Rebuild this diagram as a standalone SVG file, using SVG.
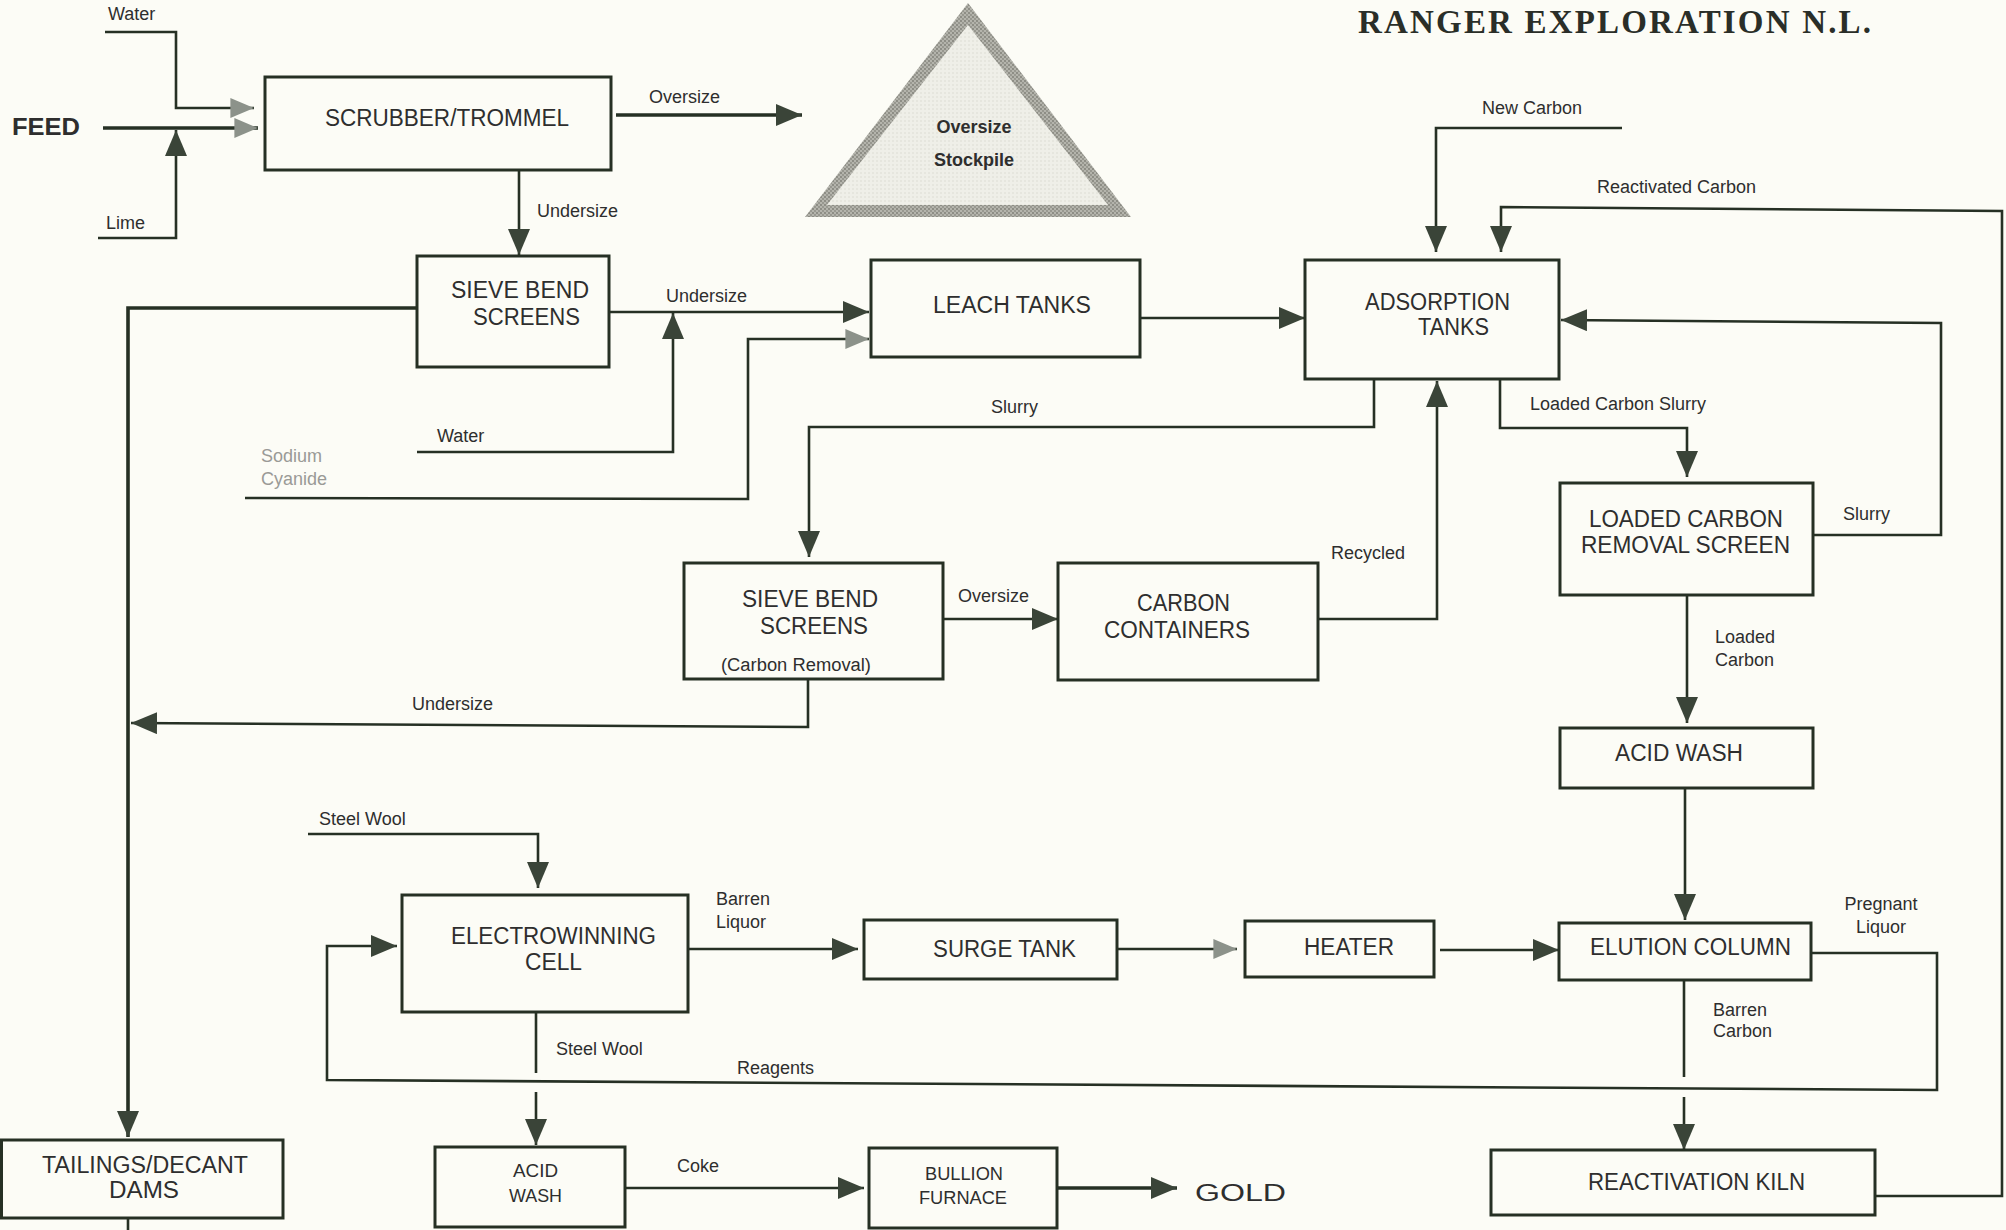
<svg xmlns="http://www.w3.org/2000/svg" width="2006" height="1230" viewBox="0 0 2006 1230">
<defs>
<style>
.bg{fill:#fcfcf6}
.box{fill:none;stroke:#263024;stroke-width:3}
.ln{fill:none;stroke:#263024;stroke-width:2.6}
.lnk{fill:none;stroke:#263024;stroke-width:3.6}
.lbl{font-family:"Liberation Sans",Arial,sans-serif;font-size:18px;fill:#2e2e2e}
.nd{font-family:"Liberation Sans",Arial,sans-serif;font-size:23px;fill:#2e2e2e}
.sm{font-family:"Liberation Sans",Arial,sans-serif;font-size:18px;fill:#2e2e2e}
.faint{fill:#9a9a96}
.title{font-family:"Liberation Serif","Times New Roman",serif;font-size:33px;font-weight:bold;fill:#2a2e28}
</style>
<marker id="arr" viewBox="0 0 26 22" refX="26" refY="11" markerWidth="26" markerHeight="22" markerUnits="userSpaceOnUse" orient="auto">
<path d="M0,0 L26,11 L0,22 Z" fill="#3a4438"/>
</marker>
<marker id="arrg" viewBox="0 0 26 22" refX="26" refY="11" markerWidth="24" markerHeight="20" markerUnits="userSpaceOnUse" orient="auto">
<path d="M0,0 L26,11 L0,22 Z" fill="#8c928a"/>
</marker>
<pattern id="dots" width="4" height="4" patternUnits="userSpaceOnUse">
<rect width="4" height="4" fill="#b4b4ac"/>
<circle cx="1" cy="1" r="0.9" fill="#7c7c74"/>
<circle cx="3" cy="3" r="0.9" fill="#8a8a82"/>
</pattern>
<pattern id="dots2" width="4" height="4" patternUnits="userSpaceOnUse">
<rect width="4" height="4" fill="#efefe8"/>
<circle cx="1" cy="1" r="0.7" fill="#d6d6ce"/>
</pattern>
</defs>
<rect class="bg" x="0" y="0" width="2006" height="1230"/>

<text class="title" x="1358" y="33" textLength="513" lengthAdjust="spacing">RANGER  EXPLORATION  N.L.</text>

<g id="connectors">
<polyline class="ln" points="105,32 176,32 176,108 254,108" marker-end="url(#arrg)"/>
<polyline class="lnk" points="103,128 258,128" marker-end="url(#arrg)"/>
<polyline class="ln" points="98,238 176,238 176,130" marker-end="url(#arr)"/>
<polyline class="lnk" points="616,115 802,115" marker-end="url(#arr)"/>
<polyline class="ln" points="519,170 519,255" marker-end="url(#arr)"/>
<polyline class="lnk" points="417,308 128,308 128,1137" marker-end="url(#arr)"/>
<polyline class="ln" points="609,312 869,312" marker-end="url(#arr)"/>
<polyline class="ln" points="417,452 673,452 673,313" marker-end="url(#arr)"/>
<polyline class="ln" points="245,498 748,499 748,339 869,339" marker-end="url(#arrg)"/>
<polyline class="ln" points="1140,318 1305,318" marker-end="url(#arr)"/>
<polyline class="ln" points="1622,128 1436,128 1436,252" marker-end="url(#arr)"/>
<polyline class="ln" points="1875,1196 2002,1196 2002,211 1501,207 1501,252" marker-end="url(#arr)"/>
<polyline class="ln" points="1374,379 1374,427 809,427 809,557" marker-end="url(#arr)"/>
<polyline class="ln" points="1500,379 1500,428 1687,428 1687,477" marker-end="url(#arr)"/>
<polyline class="ln" points="1813,535 1941,535 1941,323 1561,320" marker-end="url(#arr)"/>
<polyline class="ln" points="1687,595 1687,723" marker-end="url(#arr)"/>
<polyline class="ln" points="943,619 1058,619" marker-end="url(#arr)"/>
<polyline class="ln" points="1318,619 1437,619 1437,381" marker-end="url(#arr)"/>
<polyline class="ln" points="808,679 808,727 131,723" marker-end="url(#arr)"/>
<polyline class="ln" points="1685,788 1685,920" marker-end="url(#arr)"/>
<polyline class="ln" points="308,834 538,834 538,888" marker-end="url(#arr)"/>
<polyline class="ln" points="688,949 858,949" marker-end="url(#arr)"/>
<polyline class="ln" points="1117,949 1237,949" marker-end="url(#arrg)"/>
<polyline class="ln" points="1440,950 1559,950" marker-end="url(#arr)"/>
<polyline class="ln" points="1811,953 1937,953 1937,1090 327,1080 327,946 397,946" marker-end="url(#arr)"/>
<polyline class="ln" points="1684,980 1684,1077"/>
<polyline class="ln" points="1684,1097 1684,1150" marker-end="url(#arr)"/>
<polyline class="ln" points="536,1012 536,1073"/>
<polyline class="ln" points="536,1092 536,1145" marker-end="url(#arr)"/>
<polyline class="ln" points="625,1188 864,1188" marker-end="url(#arr)"/>
<polyline class="lnk" points="1057,1188 1177,1188" marker-end="url(#arr)"/>
<polyline class="ln" points="128,1218 128,1230"/>
</g>

<g id="labels">
<text class="lbl" x="108" y="20">Water</text>
<text class="lbl" x="106" y="229">Lime</text>
<text class="lbl" x="649" y="103">Oversize</text>
<text class="lbl" x="537" y="217">Undersize</text>
<text class="lbl" x="666" y="302">Undersize</text>
<text class="lbl" x="437" y="442">Water</text>
<text class="lbl faint" x="261" y="462">Sodium</text>
<text class="lbl faint" x="261" y="485">Cyanide</text>
<text class="lbl" x="991" y="413">Slurry</text>
<text class="lbl" x="1482" y="114">New Carbon</text>
<text class="lbl" x="1597" y="193">Reactivated Carbon</text>
<text class="lbl" x="1530" y="410">Loaded Carbon Slurry</text>
<text class="lbl" x="1843" y="520">Slurry</text>
<text class="lbl" x="1331" y="559">Recycled</text>
<text class="lbl" x="958" y="602">Oversize</text>
<text class="lbl" x="412" y="710">Undersize</text>
<text class="lbl" x="1715" y="643">Loaded</text>
<text class="lbl" x="1715" y="666">Carbon</text>
<text class="lbl" x="319" y="825">Steel Wool</text>
<text class="lbl" x="716" y="905">Barren</text>
<text class="lbl" x="716" y="928">Liquor</text>
<text class="lbl" x="556" y="1055">Steel Wool</text>
<text class="lbl" x="737" y="1074">Reagents</text>
<text class="lbl" x="1881" y="910" text-anchor="middle">Pregnant</text>
<text class="lbl" x="1881" y="933" text-anchor="middle">Liquor</text>
<text class="lbl" x="1713" y="1016">Barren</text>
<text class="lbl" x="1713" y="1037">Carbon</text>
<text class="lbl" x="677" y="1172">Coke</text>
<text class="nd" x="12" y="135" font-size="27" font-weight="bold" textLength="68" lengthAdjust="spacingAndGlyphs">FEED</text>
<text class="nd" x="1195" y="1201" font-size="34" textLength="91" lengthAdjust="spacingAndGlyphs">GOLD</text>
</g>

<g id="stockpile">
<polygon points="968,3 805,217 1131,217" fill="url(#dots)"/>
<polygon points="968,25 827,205 1108,205" fill="url(#dots2)"/>
<text class="sm" x="974" y="133" text-anchor="middle" font-size="16" font-weight="bold" fill="#3a3a3a">Oversize</text>
<text class="sm" x="974" y="166" text-anchor="middle" font-size="16" font-weight="bold" fill="#3a3a3a">Stockpile</text>
</g>

<g id="scrubber">
<rect class="box" x="265" y="77" width="346" height="93"/>
<text class="nd" x="325" y="126" textLength="244" lengthAdjust="spacingAndGlyphs">SCRUBBER/TROMMEL</text>
</g>
<g id="sieve1">
<rect class="box" x="417" y="256" width="192" height="111"/>
<text class="nd" x="451" y="298" textLength="138" lengthAdjust="spacingAndGlyphs">SIEVE BEND</text>
<text class="nd" x="473" y="325" textLength="107" lengthAdjust="spacingAndGlyphs">SCREENS</text>
</g>
<g id="leach">
<rect class="box" x="871" y="260" width="269" height="97"/>
<text class="nd" x="933" y="313" textLength="158" lengthAdjust="spacingAndGlyphs">LEACH TANKS</text>
</g>
<g id="adsorption">
<rect class="box" x="1305" y="260" width="254" height="119"/>
<text class="nd" x="1365" y="310" textLength="145" lengthAdjust="spacingAndGlyphs">ADSORPTION</text>
<text class="nd" x="1418" y="335" textLength="71" lengthAdjust="spacingAndGlyphs">TANKS</text>
</g>
<g id="sieve2">
<rect class="box" x="684" y="563" width="259" height="116"/>
<text class="nd" x="742" y="607" textLength="136" lengthAdjust="spacingAndGlyphs">SIEVE BEND</text>
<text class="nd" x="760" y="634" textLength="108" lengthAdjust="spacingAndGlyphs">SCREENS</text>
<text class="sm" x="721" y="671" textLength="150" lengthAdjust="spacingAndGlyphs">(Carbon Removal)</text>
</g>
<g id="carbon-containers">
<rect class="box" x="1058" y="563" width="260" height="117"/>
<text class="nd" x="1137" y="611" textLength="93" lengthAdjust="spacingAndGlyphs">CARBON</text>
<text class="nd" x="1104" y="638" textLength="146" lengthAdjust="spacingAndGlyphs">CONTAINERS</text>
</g>
<g id="lcrs">
<rect class="box" x="1560" y="483" width="253" height="112"/>
<text class="nd" x="1589" y="527" textLength="194" lengthAdjust="spacingAndGlyphs">LOADED CARBON</text>
<text class="nd" x="1581" y="553" textLength="209" lengthAdjust="spacingAndGlyphs">REMOVAL SCREEN</text>
</g>
<g id="acid-wash-right">
<rect class="box" x="1560" y="728" width="253" height="60"/>
<text class="nd" x="1615" y="761" textLength="128" lengthAdjust="spacingAndGlyphs">ACID WASH</text>
</g>
<g id="elution">
<rect class="box" x="1559" y="923" width="252" height="57"/>
<text class="nd" x="1590" y="955" textLength="201" lengthAdjust="spacingAndGlyphs">ELUTION COLUMN</text>
</g>
<g id="heater">
<rect class="box" x="1245" y="921" width="189" height="56"/>
<text class="nd" x="1304" y="955" textLength="90" lengthAdjust="spacingAndGlyphs">HEATER</text>
</g>
<g id="surge">
<rect class="box" x="864" y="920" width="253" height="59"/>
<text class="nd" x="933" y="957" textLength="143" lengthAdjust="spacingAndGlyphs">SURGE TANK</text>
</g>
<g id="electrowinning">
<rect class="box" x="402" y="895" width="286" height="117"/>
<text class="nd" x="451" y="944" textLength="205" lengthAdjust="spacingAndGlyphs">ELECTROWINNING</text>
<text class="nd" x="525" y="970" textLength="57" lengthAdjust="spacingAndGlyphs">CELL</text>
</g>
<g id="tailings">
<rect class="box" x="1.5" y="1140" width="281.5" height="78"/>
<text class="nd" x="42" y="1173" textLength="206" lengthAdjust="spacingAndGlyphs">TAILINGS/DECANT</text>
<text class="nd" x="109" y="1198" textLength="70" lengthAdjust="spacingAndGlyphs">DAMS</text>
</g>
<g id="acid-wash-left">
<rect class="box" x="435" y="1147" width="190" height="80"/>
<text class="sm" x="513" y="1177" textLength="45" lengthAdjust="spacingAndGlyphs">ACID</text>
<text class="sm" x="509" y="1202" textLength="53" lengthAdjust="spacingAndGlyphs">WASH</text>
</g>
<g id="bullion">
<rect class="box" x="869" y="1148" width="188" height="80"/>
<text class="sm" x="925" y="1180" textLength="78" lengthAdjust="spacingAndGlyphs">BULLION</text>
<text class="sm" x="919" y="1204" textLength="88" lengthAdjust="spacingAndGlyphs">FURNACE</text>
</g>
<g id="kiln">
<rect class="box" x="1491" y="1150" width="384" height="65"/>
<text class="nd" x="1588" y="1190" textLength="217" lengthAdjust="spacingAndGlyphs">REACTIVATION KILN</text>
</g>
</svg>
